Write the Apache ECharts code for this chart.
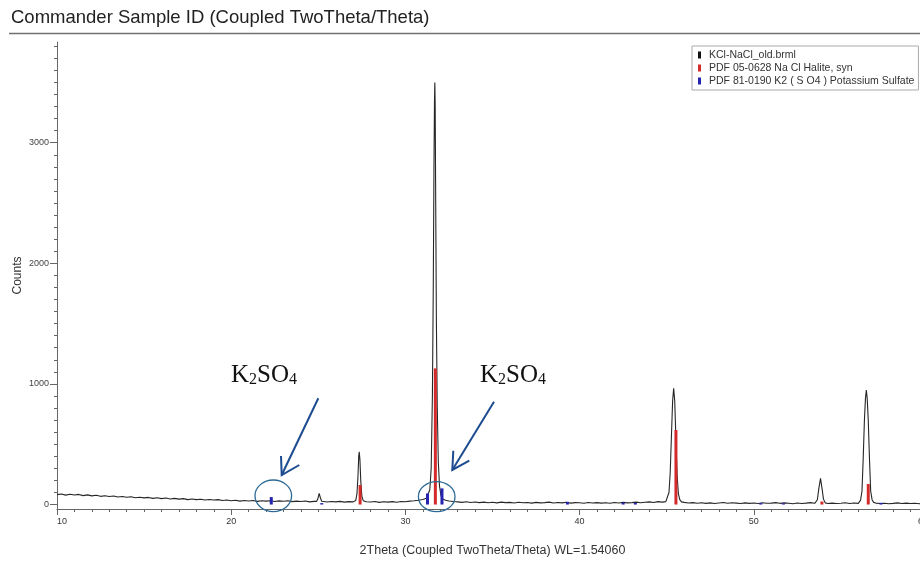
<!DOCTYPE html>
<html>
<head>
<meta charset="utf-8">
<script src="https://cdn.jsdelivr.net/npm/echarts@6/dist/echarts.min.js"></script>
<style>
  html, body { margin: 0; padding: 0; background: #fff; }
  #main { width: 920px; height: 562px; }
</style>
</head>
<body>
<div id="main"></div>
<script>
//扫描起点和步长 (2Theta)
let scanStart = 10
let scanStep = 0.25
//背景计数, 10.00 ~ 60.00 每 0.25 度一个点
let baseCounts = [
    82, 88, 78, 85,  79, 84, 74, 80,  72, 77, 68, 73,  66, 71, 62, 67,  60, 64, 56, 61,
    55, 59, 51, 56,  49, 54, 46, 51,  45, 49, 41, 46,  41, 44, 37, 42,  37, 41, 34, 38,
    31, 35, 28, 33,  29, 33, 26, 31,  28, 32, 25, 30,  27, 31, 24, 28,  25, 29, 22, 26,
    25, 27, 21, 25,  22, 26, 20, 24,  22, 24, 20, 23,  21, 25, 18, 23,  20, 24, 19, 25,
    23, 28, 31, 36,  42, 50, 60, 70,  40, 35, 29, 25,  22, 18, 23, 17,  21, 16, 20, 15,
    19, 14, 20, 16,  18, 13, 19, 15,  17, 12, 18, 14,  16, 20, 13, 17,  14, 19, 12, 16,
    15, 11, 17, 13,  16, 12, 15, 11,  17, 13, 18, 14,  16, 20, 15, 19,  22, 17, 24, 20,
    22, 20, 18, 24,  18, 13, 16, 11,  15, 10, 14,  9,  13, 17, 11, 15,  12,  8, 14, 10,
    13,  9, 15, 11,  12, 16, 10, 14,  11,  7, 13,  9,  12, 16, 10, 14,  13,  9, 12,  8,
    11, 15,  9, 13,  10, 14, 12, 16,  12,  8, 11,  7,  10, 14,  9, 12,   8, 11,  7, 10,
    9
]
//衍射峰 [2Theta, Counts]
let peak25 = [[24.9, 26], [24.97, 45], [25.05, 92], [25.13, 50], [25.2, 27]]
let peak27 = [[27.05, 24], [27.15, 34], [27.22, 90], [27.28, 240], [27.32, 400], [27.35, 438],
    [27.39, 370], [27.44, 190], [27.5, 70], [27.58, 32], [27.68, 22]]
let peak31 = [[31.2, 52], [31.3, 68], [31.4, 120], [31.48, 300], [31.55, 900], [31.6, 1800],
    [31.64, 2800], [31.67, 3350], [31.69, 3500], [31.71, 3300], [31.74, 2500], [31.78, 1500],
    [31.83, 800], [31.89, 350], [31.96, 150], [32.05, 70], [32.15, 45], [32.3, 36]]
let peak45 = [[44.95, 24], [45.05, 40], [45.13, 100], [45.2, 260], [45.27, 560], [45.34, 860],
    [45.4, 963], [45.46, 860], [45.53, 540], [45.6, 240], [45.67, 90], [45.75, 40], [45.85, 22]]
let peak53 = [[53.55, 14], [53.65, 40], [53.73, 130], [53.83, 217], [53.92, 130], [54.0, 45], [54.1, 14]]
let peak56 = [[56.05, 16], [56.13, 36], [56.21, 110], [56.28, 380], [56.35, 700], [56.41, 880],
    [56.46, 949], [56.51, 880], [56.57, 700], [56.64, 380], [56.71, 110], [56.79, 40], [56.88, 18]]
let peakList = [peak25, peak27, peak31, peak45, peak53, peak56]

//PDF 05-0628 NaCl 标准峰
let halitePos = [27.4, 31.72, 45.53, 53.91, 56.57]
let haliteInt = [162, 1129, 618, 25, 170]
//PDF 81-0190 K2SO4 标准峰
let sulfatePos = [22.3, 25.2, 31.27, 32.1, 39.3, 42.5, 43.2, 50.4, 51.7, 57.3]
let sulfateInt = [62, 12, 92, 134, 22, 16, 14, 12, 10, 14]

//坐标轴刻度
let xTicks = [10, 20, 30, 40, 50, 60]
let yTicks = [0, 1000, 2000, 3000]

let seriesNames = ['KCl-NaCl_old.brml', 'PDF 05-0628 Na Cl Halite, syn', 'PDF 81-0190 K2 ( S O4 ) Potassium Sulfate']

//合并背景和峰
function buildPattern(){
    let pts = []
    baseCounts.forEach((c, i) => {
        let x = +(scanStart + i * scanStep).toFixed(2)
        let inPeak = peakList.some(p => x >= p[0][0] && x <= p[p.length - 1][0])
        if(!inPeak){
            pts.push([x, c])
        }
    })
    peakList.forEach(p => { pts = pts.concat(p) })
    pts.sort((a, b) => a[0] - b[0])
    return pts
}

//y轴小刻度 每100
let yMinor = []
for(let v = 100; v <= 3800; v += 100){
    if(v % 1000 !== 0) yMinor.push(v)
}

let yMin = -37
let yMax = 3835
let axisColor = '#666'
let font = 'Liberation Sans, Arial, sans-serif'
let serif = 'Liberation Serif, Times New Roman, serif'

let myChart = echarts.init(document.getElementById('main'))

let kRich = {
    a: { fontSize: 25, fontFamily: serif, fill: '#111', verticalAlign: 'bottom', lineHeight: 28 },
    b: { fontSize: 16, fontFamily: serif, fill: '#111', verticalAlign: 'bottom', lineHeight: 28 }
}

let option = {
    animation: false,
    backgroundColor: '#fff',
    title: {
        text: 'Commander Sample ID (Coupled TwoTheta/Theta)',
        left: 11,
        top: 8,
        padding: 0,
        textStyle: { fontSize: 18.5, fontWeight: 'normal', color: '#222', fontFamily: font }
    },
    legend: {
        data: seriesNames,
        orient: 'vertical',
        left: 692,
        top: 46,
        icon: 'rect',
        itemWidth: 3,
        itemHeight: 7,
        itemGap: 1,
        padding: [3, 4, 3, 6],
        backgroundColor: '#fff',
        borderColor: '#aaa',
        borderWidth: 1,
        borderRadius: 0,
        textStyle: { fontSize: 10.5, color: '#333', fontFamily: font, lineHeight: 12, padding: [0, 0, 0, 3] }
    },
    grid: { left: 57, right: -8, top: 42, bottom: 53, outerBoundsMode: 'none', containLabel: false },
    xAxis: {
        type: 'value',
        min: 10,
        max: 60,
        interval: 10,
        name: '2Theta (Coupled TwoTheta/Theta) WL=1.54060',
        nameLocation: 'middle',
        nameGap: 35,
        nameMoveOverlap: false,
        nameTextStyle: { fontSize: 12.5, color: '#333', fontFamily: font },
        axisLine: { onZero: false, lineStyle: { color: axisColor } },
        axisTick: { length: 6, lineStyle: { color: axisColor } },
        minorTick: { show: true, splitNumber: 10, length: 3, lineStyle: { color: axisColor } },
        axisLabel: { fontSize: 9, color: '#333', fontFamily: font, margin: 8,
            alignMinLabel: 'left', alignMaxLabel: 'right' },
        splitLine: { show: false },
        minorSplitLine: { show: false }
    },
    yAxis: [{
        type: 'value',
        min: yMin,
        max: yMax,
        name: 'Counts',
        nameLocation: 'middle',
        nameGap: 33,
        nameMoveOverlap: false,
        nameTextStyle: { fontSize: 12, color: '#333', fontFamily: font },
        axisLine: { show: true, onZero: false, lineStyle: { color: axisColor } },
        axisTick: { show: true, length: 7, customValues: yTicks, lineStyle: { color: axisColor } },
        axisLabel: { customValues: yTicks, fontSize: 9, color: '#444', fontFamily: font, margin: 8,
            formatter: v => String(v) },
        splitLine: { show: false }
    }, {
        type: 'value',
        min: yMin,
        max: yMax,
        position: 'left',
        axisLine: { show: false },
        axisTick: { show: true, length: 3, customValues: yMinor, lineStyle: { color: axisColor } },
        axisLabel: { show: false },
        splitLine: { show: false }
    }],
    series: [{
        name: seriesNames[0],
        type: 'line',
        data: buildPattern(),
        showSymbol: false,
        symbol: 'none',
        lineStyle: { color: '#262626', width: 1.1 },
        itemStyle: { color: '#111' },
        z: 2
    }, {
        name: seriesNames[1],
        type: 'bar',
        data: halitePos.map((x, i) => [x, haliteInt[i]]),
        barWidth: 3,
        barGap: '-100%',
        itemStyle: { color: '#d42a2a' },
        z: 3
    }, {
        name: seriesNames[2],
        type: 'bar',
        data: sulfatePos.map((x, i) => [x, sulfateInt[i]]),
        barWidth: 3,
        barGap: '-100%',
        itemStyle: { color: '#2424b0' },
        z: 3
    }],
    graphic: [
        //标题下横线
        { type: 'line', shape: { x1: 9, y1: 33.5, x2: 920, y2: 33.5 }, style: { stroke: '#707070', lineWidth: 1.5 }, z: 100 },
        //标注圈
        { type: 'ellipse', shape: { cx: 273.3, cy: 495.8, rx: 18.3, ry: 15.8 }, style: { fill: 'none', stroke: '#2d6a96', lineWidth: 1.3 }, z: 100 },
        { type: 'ellipse', shape: { cx: 436.7, cy: 496.7, rx: 18.3, ry: 15 }, style: { fill: 'none', stroke: '#2d6a96', lineWidth: 1.3 }, z: 100 },
        //箭头
        { type: 'line', shape: { x1: 318.3, y1: 398.3, x2: 281.7, y2: 475 }, style: { stroke: '#1c4b8f', lineWidth: 2 }, z: 100 },
        { type: 'polyline', shape: { points: [[281, 456], [281.7, 475], [299.3, 465]] }, style: { fill: 'none', stroke: '#1c4b8f', lineWidth: 2 }, z: 100 },
        { type: 'line', shape: { x1: 494, y1: 401.7, x2: 452.3, y2: 470 }, style: { stroke: '#1c4b8f', lineWidth: 2 }, z: 100 },
        { type: 'polyline', shape: { points: [[453.3, 450.7], [452.3, 470], [469.3, 460.7]] }, style: { fill: 'none', stroke: '#1c4b8f', lineWidth: 2 }, z: 100 },
        //K2SO4 文字
        { type: 'text', x: 231, y: 360, z: 100, style: { text: '{a|K}{b|2}{a|SO}{b|4}', rich: kRich } },
        { type: 'text', x: 480, y: 360, z: 100, style: { text: '{a|K}{b|2}{a|SO}{b|4}', rich: kRich } }
    ]
}
myChart.setOption(option)
</script>
</body>
</html>
